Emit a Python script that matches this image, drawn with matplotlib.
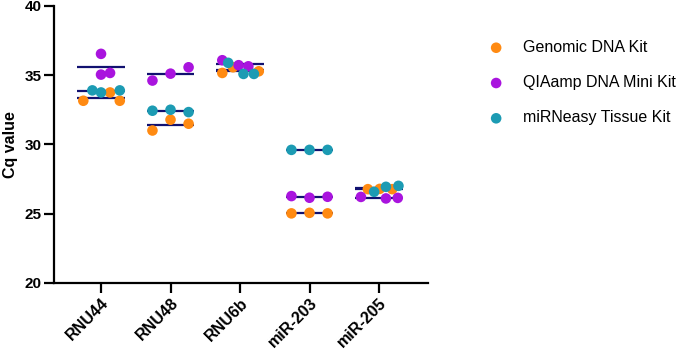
import matplotlib
matplotlib.use("Agg")
import matplotlib.pyplot as plt
import numpy as np

plt.rcParams['font.family'] = ['Liberation Sans', 'DejaVu Sans']

categories = ["RNU44", "RNU48", "RNU6b", "miR-203", "miR-205"]
kits = ["Genomic DNA Kit", "QIAamp DNA Mini Kit", "miRNeasy Tissue Kit"]

genomic = [[33.15, 33.75, 33.15],
           [31.00, 31.78, 31.49],
           [35.16, 35.57, 35.28],
           [25.01, 25.05, 25.01],
           [26.76, 26.78, 26.76]]
qiaamp = [[36.54, 35.04, 35.16],
          [34.61, 35.11, 35.57],
          [36.08, 35.72, 35.64],
          [26.26, 26.14, 26.21],
          [26.20, 26.09, 26.13]]
mirneasy = [[33.90, 33.75, 33.90],
            [32.43, 32.50, 32.33],
            [35.89, 35.09, 35.09],
            [29.60, 29.60, 29.60],
            [26.57, 26.93, 27.00]]

# horizontal scatter offsets (layout only)
off_genomic = [[-0.255, 0.13, 0.27], [-0.26, 0, 0.26], [-0.255, -0.10, 0.27],
               [-0.26, 0, 0.26], [-0.16, 0.01, 0.19]]
off_qiaamp = [[0, 0, 0.13], [-0.26, 0, 0.26], [-0.255, -0.02, 0.12],
              [-0.26, 0, 0.26], [-0.26, 0.10, 0.27]]
off_mirneasy = [[-0.125, 0, 0.27], [-0.26, 0, 0.26], [-0.17, 0.05, 0.20],
                [-0.26, 0, 0.26], [-0.07, 0.10, 0.28]]

colors = ["#FF8A12", "#A914DE", "#1C9BB3"]
line_color = "#111170"

fig = plt.figure(figsize=(6.85, 3.5), dpi=100)
ax = fig.add_axes([0.0793, 0.1923, 0.5455, 0.7906])

series = [(genomic, off_genomic), (qiaamp, off_qiaamp), (mirneasy, off_mirneasy)]

# mean lines first
for (vals, offs) in series:
    for i, v in enumerate(vals):
        m = np.mean(v)
        ax.plot([i - 0.34, i + 0.34], [m, m], color=line_color, lw=1.6,
                solid_capstyle='butt', zorder=2)

for k, ((vals, offs), c) in enumerate(zip(series, colors)):
    for i, v in enumerate(vals):
        xs = [i + o for o in offs[i]]
        ax.scatter(xs, v, s=58, color=c, edgecolors='none', zorder=3 + k,
                   label=kits[k] if i == 0 else None)

ax.set_xlim(-0.672, 4.705)
ax.set_ylim(20, 40)
ax.set_yticks([20, 25, 30, 35, 40])
ax.set_xticks(range(len(categories)))
ax.set_xticklabels(categories, rotation=45, ha='right', rotation_mode='anchor',
                   fontsize=11.5, fontweight='bold')
for lbl in ax.get_yticklabels():
    lbl.set_fontweight('bold')
    lbl.set_fontsize(11)
ax.set_ylabel("Cq value", fontsize=11.5, fontweight='bold', labelpad=5)

for s in ['top', 'right']:
    ax.spines[s].set_visible(False)
for s in ['left', 'bottom']:
    ax.spines[s].set_linewidth(1.6)
ax.tick_params(axis='both', width=1.6, length=7, pad=2)

leg = fig.legend(loc='upper left', bbox_to_anchor=(0.68, 0.927), frameon=False,
                 fontsize=11.5, labelspacing=1.27, handletextpad=0.69,
                 markerscale=1.0, scatterpoints=1)

fig.savefig("out.png", dpi=100)
